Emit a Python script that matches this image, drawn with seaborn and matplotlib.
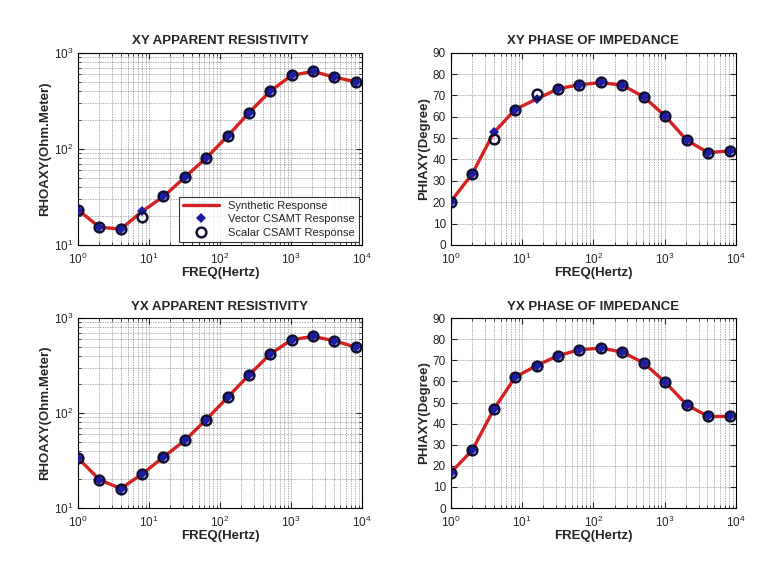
import matplotlib
matplotlib.use("Agg")
import matplotlib.pyplot as plt
import matplotlib.ticker as mticker
import seaborn as sns
import numpy as np

# frequencies (Hz)
freq = [1, 2, 4, 8, 16, 32, 64, 128, 256, 512, 1024, 2048, 4096, 8192]

# XY apparent resistivity
xy_rho_syn = [23.2, 15.3, 14.6, 22.3, 31.9, 50.5, 80.2, 135, 237, 398, 580, 638, 557, 498]
xy_rho_vec = [23.2, 15.3, 14.6, 22.3, 31.9, 50.5, 80.2, 135, 237, 398, 580, 638, 557, 498]
xy_rho_sca = [23.2, 15.3, 14.6, 19.3, 31.9, 50.5, 80.2, 135, 237, 398, 580, 638, 557, 498]

# XY phase
xy_phi_syn = [20.3, 33.3, 52.5, 63.4, 68.3, 73.1, 75.0, 76.0, 74.8, 69.3, 60.3, 49.0, 43.2, 44.0]
xy_phi_vec = [20.3, 33.3, 52.9, 63.4, 68.1, 73.1, 75.0, 76.4, 74.8, 69.3, 60.3, 49.0, 43.2, 44.0]
xy_phi_sca = [20.3, 33.3, 49.8, 63.4, 70.7, 73.1, 75.0, 76.4, 74.8, 69.3, 60.3, 49.0, 43.2, 44.0]

# YX apparent resistivity
yx_rho = [33.6, 19.9, 16.0, 22.8, 34.4, 51.5, 85.1, 146, 251, 418, 591, 641, 577, 495]
# YX phase
yx_phi = [16.8, 27.4, 46.7, 62.0, 67.5, 72.2, 75.0, 75.8, 73.9, 68.7, 59.6, 48.9, 43.4, 43.4]

sns.set_style("ticks")
plt.rcParams["font.family"] = ["Liberation Sans", "DejaVu Sans"]
plt.rcParams["mathtext.default"] = "regular"

RED = "#d42121"
BLUE = "#1c1ca8"
GRID = dict(linestyle=":", color="#444444", linewidth=0.45)

fig = plt.figure(figsize=(7.84, 5.79), dpi=100)
ax_pos = {
    "tl": [0.0995, 0.577, 0.362, 0.332],
    "tr": [0.575, 0.577, 0.3635, 0.332],
    "bl": [0.0995, 0.1226, 0.362, 0.328],
    "br": [0.575, 0.1226, 0.3635, 0.328],
}

panels = [
    ("tl", "XY APPARENT RESISTIVITY", "RHOAXY(Ohm.Meter)", xy_rho_syn, xy_rho_vec, xy_rho_sca, True),
    ("tr", "XY PHASE OF IMPEDANCE", "PHIAXY(Degree)", xy_phi_syn, xy_phi_vec, xy_phi_sca, False),
    ("bl", "YX APPARENT RESISTIVITY", "RHOAXY(Ohm.Meter)", yx_rho, yx_rho, yx_rho, True),
    ("br", "YX PHASE OF IMPEDANCE", "PHIAXY(Degree)", yx_phi, yx_phi, yx_phi, False),
]

for key, title, ylab, syn, vec, sca, logy in panels:
    ax = fig.add_axes(ax_pos[key])
    sns.lineplot(x=freq, y=syn, ax=ax, color=RED, linewidth=2.4,
                 label="Synthetic Response", zorder=2)
    sns.lineplot(x=freq, y=vec, ax=ax, marker="D", linestyle="", color=BLUE,
                 markersize=5.5, markeredgewidth=0, label="Vector CSAMT Response", zorder=3)
    sns.lineplot(x=freq, y=sca, ax=ax, marker="o", linestyle="", color="black",
                 markerfacecolor="none", markeredgecolor="#111133", markersize=7,
                 markeredgewidth=1.8, label="Scalar CSAMT Response", zorder=4)

    ax.set_xscale("log")
    ax.set_xlim(1, 10000)
    if logy:
        ax.set_yscale("log")
        ax.set_ylim(10, 1000)
        ax.grid(True, which="both", axis="y", **GRID)
    else:
        ax.set_ylim(0, 90)
        ax.yaxis.set_major_locator(mticker.MultipleLocator(10))
        ax.grid(True, which="major", axis="y", **GRID)
    ax.grid(True, which="both", axis="x", **GRID)
    ax.xaxis.set_major_locator(mticker.LogLocator(base=10, numticks=10))

    ax.tick_params(which="both", direction="in", top=True, right=True, labelsize=8.5)
    ax.tick_params(axis="x", which="major", pad=5)
    ax.tick_params(which="major", length=4)
    ax.tick_params(which="minor", length=2)
    for sp in ax.spines.values():
        sp.set_color("black")
        sp.set_linewidth(0.8)

    ax.set_title(title, fontsize=9.5, fontweight="bold", pad=6)
    ax.set_xlabel("FREQ(Hertz)", fontsize=9.5, fontweight="bold", labelpad=0)
    ax.set_ylabel(ylab, fontsize=9.5, fontweight="bold", labelpad=2)

    if key == "tl":
        leg = ax.legend(loc="lower right", fontsize=8, frameon=True, fancybox=False,
                        edgecolor="black", borderaxespad=0.25, handlelength=3.2,
                        labelspacing=0.3, borderpad=0.4)
        leg.get_frame().set_linewidth(0.8)
    else:
        ax.get_legend().remove()

fig.savefig("out.png", dpi=100, facecolor="white")
